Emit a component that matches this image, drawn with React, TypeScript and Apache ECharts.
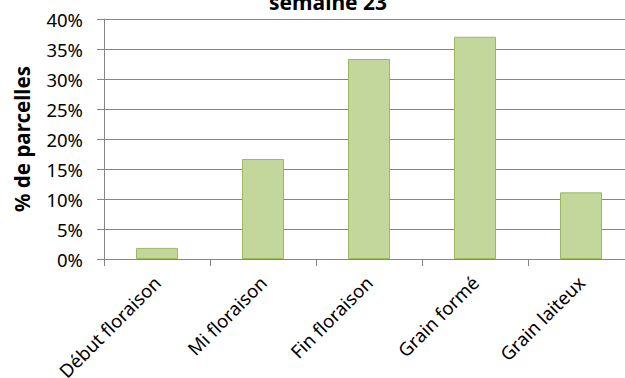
import React, { useEffect, useRef } from "react";
import * as echarts from "echarts";

const categories = ["Début floraison", "Mi floraison", "Fin floraison", "Grain formé", "Grain laiteux"];
const shares = [1.85, 16.67, 33.33, 37.04, 11.11];
const titleText = "semaine 23";
const yAxisTitle = "% de parcelles";

const FONT = "'Noto Sans', 'Open Sans', sans-serif";

export default function App() {
  const ref = useRef<HTMLDivElement>(null);

  useEffect(() => {
    if (!ref.current) return;
    const chart = echarts.init(ref.current, undefined, { renderer: "svg" });
    chart.setOption({
      animation: false,
      backgroundColor: "#ffffff",
      title: {
        text: titleText,
        left: 264,
        top: -14,
        textStyle: { fontFamily: FONT, fontSize: 21, fontWeight: "bold", color: "#000" },
      },
      grid: {
        left: 104,
        width: 530,
        top: 19,
        height: 240,
        containLabel: false,
        outerBoundsMode: "none",
      },
      xAxis: {
        type: "category",
        data: categories,
        axisLine: { lineStyle: { color: "#868686", width: 1 } },
        axisTick: { show: true, alignWithLabel: false, length: 7, lineStyle: { color: "#868686" } },
        axisLabel: {
          rotate: 45,
          margin: 20,
          fontFamily: FONT,
          fontSize: 18.5,
          color: "#000",
          interval: 0,
        },
      },
      yAxis: {
        type: "value",
        min: 0,
        max: 40,
        interval: 5,
        name: yAxisTitle,
        nameLocation: "middle",
        nameGap: 72,
        nameTextStyle: { fontFamily: FONT, fontSize: 20.5, fontWeight: "bold", color: "#000" },
        axisLine: { show: true, lineStyle: { color: "#868686", width: 1 } },
        axisTick: { show: true, length: 7, lineStyle: { color: "#868686" } },
        splitLine: { lineStyle: { color: "#868686", width: 1 } },
        axisLabel: {
          formatter: "{value}%",
          margin: 21,
          fontFamily: FONT,
          fontSize: 18.5,
          color: "#000",
        },
      },
      series: [
        {
          type: "bar",
          data: shares,
          barWidth: 42,
          itemStyle: { color: "#c3d69b", borderColor: "#9bbb59", borderWidth: 1 },
        },
      ],
    });
    return () => chart.dispose();
  }, []);

  return <div ref={ref} style={{ width: 625, height: 378, position: "absolute", left: 0, top: 0 }} />;
}
